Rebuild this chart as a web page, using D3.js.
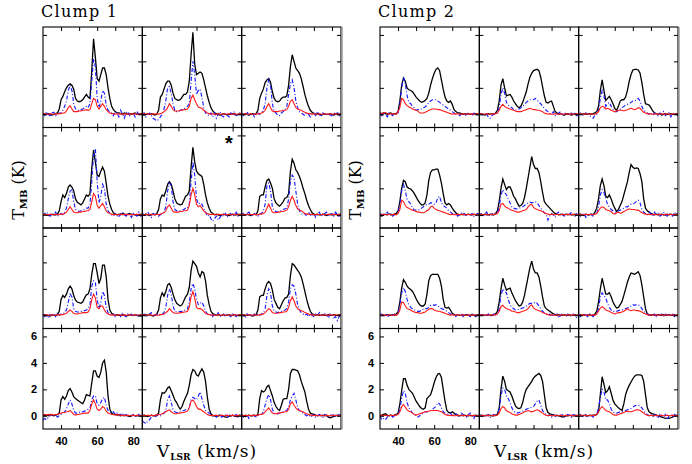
<!DOCTYPE html>
<html>
<head>
<meta charset="utf-8">
<script src="https://cdn.jsdelivr.net/npm/d3@7"></script>
<style>
  body { margin: 0; background: #fff; }
  .tick line { stroke: #000; stroke-width: 1; }
  .tick text { font-family: "Liberation Sans", Arial, sans-serif; font-size: 11px; font-weight: bold; fill: #000; }
</style>
</head>
<body>
<svg id="chart"></svg>
<script>
// Velocity channels (km/s), shared by every spectrum
const velocity = [30,31,32,33,34,35,36,37,38,39,40,41,42,43,44,45,46,47,48,49,50,51,52,53,54,55,
  56,57,58,59,60,61,62,63,64,65,66,67,68,69,70,71,72,73,74,75,76,77,78,79,80,81,82,83,84,85];

const xTicks = [40, 50, 60, 70, 80];
const yTicks = [0, 2, 4, 6];
const clumpTitles = ["Clump 1", "Clump 2"];

// Clump 1, 12 panels in reading order (row by row)
const clump1Black = [
  [0,.05,0,.05,0,-.05,0,.05,.1,.4, 1.1,1.35,1.7,2.0,2.2,2.3,2.2,1.9,1.2,1.0, .95,1.0,1.1,1.3,1.5,1.3,1.2,3.3,5.7,4.3, 2.7,2.5,3.0,3.5,3.5,3.0,2.0,1.2,.6,.35, .2,.1,.1,.05,0,.1,.05,0,.05,0, .05,.1,0,.05,0,.05],
  [0,-.05,0,.05,0,.05,0,-.05,0,.3, 1.3,1.5,1.9,2.3,2.5,2.5,2.2,1.6,1.2,1.1, 1.05,1.1,1.3,1.5,1.5,1.7,2.5,4.5,6.2,3.8, 3.0,3.1,3.2,3.1,2.6,2.0,1.4,.9,.5,.25, .1,.05,0,-.05,0,.05,0,-.05,0,0, .05,0,-.05,0,.05,0],
  [.05,0,.05,0,-.05,0,.05,0,.05,.3, 1.2,1.6,1.9,2.4,2.6,2.7,2.4,1.7,1.2,1.0, .95,1.0,1.2,1.3,1.3,1.4,2.2,3.6,4.5,4.0, 3.5,3.3,3.1,2.7,2.1,1.5,1.0,.6,.3,.15, .05,0,.05,0,-.05,0,.05,0,0,.05, 0,-.05,0,.05,0,0],
  [0,.05,0,-.05,0,.05,0,0,.05,.3, 1.0,1.5,1.3,1.6,2.1,2.25,2.1,1.8,1.2,.95, .85,.75,.9,1.2,1.5,1.4,1.6,3.5,4.9,4.0, 3.0,2.9,3.3,3.6,3.3,2.4,1.4,.8,.4,.15, .05,0,.05,0,.1,.05,0,.05,.1,0, .05,0,-.05,0,.05,0],
  [0,0,.05,0,-.05,0,.05,0,.1,.4, 1.2,1.5,1.4,1.8,2.3,2.5,2.3,1.8,1.2,.9, .8,.75,.8,1.1,1.4,1.5,1.8,3.6,5.1,4.0, 3.3,3.1,3.0,2.9,2.3,1.5,.9,.5,.2,.1, 0,.05,0,-.05,0,.05,0,0,-.05,0, .05,0,0,.05,0,0],
  [.05,0,0,.05,0,-.05,0,.05,0,.3, 1.4,1.5,1.5,2.1,2.6,2.7,2.4,2.0,1.2,.9, .75,.65,.8,1.0,1.25,1.3,1.6,3.3,4.2,3.9, 3.4,3.2,2.9,2.5,2.0,1.6,1.1,.7,.4,.15, .05,0,.05,0,0,.05,0,-.05,0,.05, 0,0,.05,0,0,.05],
  [0,.05,0,0,-.05,.05,0,0,.05,.3, 1.2,1.5,1.35,1.6,2.0,2.2,2.0,1.5,1.15,1.0, .95,.9,1.0,1.3,1.55,1.6,2.0,3.1,3.9,3.9, 3.2,2.4,2.8,3.8,3.8,2.9,1.2,.4,.15,.05, 0,.05,0,0,.05,0,-.05,0,.05,0, 0,.05,0,0,-.05,0],
  [0,0,.05,0,.05,0,-.05,0,.1,.4, 1.3,1.7,1.45,1.8,2.3,2.4,2.1,1.6,1.2,.9, .8,.7,.8,1.1,1.4,1.6,2.1,3.4,4.1,3.9, 3.7,3.2,2.9,3.3,3.2,2.6,1.5,.8,.3,.12, .05,0,.05,0,0,.05,0,0,.05,0, 0,.05,0,0,.05,0],
  [0,.05,0,0,.05,0,-.05,0,.05,.4, 1.4,1.5,1.5,2.0,2.4,2.55,2.4,1.9,1.2,.9, .6,.5,.8,1.1,1.3,1.35,1.6,3.0,3.9,3.8, 3.6,3.4,3.2,2.9,2.4,1.8,1.2,.7,.3,.1, .05,0,.05,0,0,.05,0,0,.05,0, 0,.05,0,0,.05,0],
  [.05,0,.05,0,.1,.05,0,.05,.1,.2, 1.2,1.45,1.25,1.5,1.9,2.05,1.8,1.45,1.3,1.2, 1.1,1.0,.9,1.2,1.6,1.55,1.5,2.5,3.4,3.4, 3.0,2.9,3.3,4.0,4.2,3.3,1.5,.5,.2,.1, .1,.05,.1,0,.05,0,.05,0,-.05,0, .05,0,0,.05,0,0],
  [0,.05,0,-.05,0,.05,0,0,.05,.2, 1.2,1.75,1.7,1.85,2.1,2.2,1.9,1.55,1.2,1.0, .7,.5,.7,1.1,1.4,1.7,2.3,3.1,3.5,3.4, 3.1,3.0,3.3,3.55,3.3,2.6,1.4,.5,.15,0, 0,-.05,0,.05,0,-.05,-.1,-.1,-.05,0, .05,0,-.05,0,.05,0],
  [.05,0,-.05,0,.05,0,0,.05,0,.1, 1.3,1.9,1.8,1.9,2.2,2.3,1.9,1.5,1.0,.7, .5,.4,.8,1.25,1.3,1.3,2.0,3.2,3.5,3.5, 3.45,3.4,3.1,2.6,2.2,1.8,1.1,.5,.2,.15, .1,.05,0,.05,0,.05,0,.05,-.1,-.15, -.1,-.05,0,.05,0,.05]
];
const clump1Blue = [
  [.1,-.1,.2,0,-.2,.1,.15,-.1,0,.1, .1,.3,.6,1.0,1.8,2.2,1.8,.8,.4,.3, .3,.35,.4,.5,.6,.5,.8,2.5,4.2,3.6, 1.2,.5,1.0,1.8,1.6,.7,.3,.2,.1,-.1, .2,.1,-.2,.3,0,-.3,.1,.2,-.1,0, .1,-.2,.2,0,.1,-.1],
  [0,.1,-.2,0,.1,-.1,-.3,-.4,-.5,-.4, -.2,0,.4,1.0,2.0,2.1,1.6,.8,.3,.2, .2,.3,.35,.4,.5,.6,.8,2.5,4.0,3.0, 1.5,1.8,1.9,1.3,.5,.1,0,-.1,.1,-.2, .1,-.3,0,.2,-.1,-.2,.1,0,-.3,.1, 0,.2,-.1,0,.1,-.1],
  [.1,-.1,0,.2,-.1,0,.1,-.2,0,.1, 0,.1,.3,.8,2.0,2.6,2.2,.8,.2,.1, -.1,-.1,.1,.2,.3,.6,1.5,2.3,2.6,2.0, 1.0,.5,.2,.1,0,-.1,.1,0,-.2,0, .1,-.1,.2,0,-.2,.1,0,.1,-.1,0, -.2,.1,0,.2,-.1,.1],
  [-.1,.1,.2,0,-.1,.1,0,.2,-.1,0, .1,0,.2,.5,1.2,1.8,1.9,1.0,.4,.3, .25,.3,.35,.4,.5,.5,.8,2.5,4.5,5.0, 2.5,.9,1.4,2.3,2.0,.8,.3,.1,0,-.1, .1,0,-.2,.1,.2,0,-.1,.1,0,-.2, .1,0,-.1,.2,-.1,0],
  [.1,0,-.1,.2,0,-.2,.1,0,.1,-.1, 0,.1,.2,.6,1.8,2.4,2.2,1.0,.4,.3, .3,.3,.35,.4,.5,.5,.8,2.5,4.0,3.0, 1.2,.8,.9,.8,.5,.2,-.1,0,-.3,-.5, -.3,-.1,-.4,-.2,0,-.1,.1,-.2,0,.1, -.1,0,.2,-.1,0,.1],
  [0,.1,-.1,.1,.2,0,-.1,.1,0,-.1, .1,.1,.3,.8,2.2,2.4,1.8,.6,.3,.25, .2,.25,.3,.4,.45,.5,1.2,2.5,3.0,2.8, 1.8,.8,.3,.1,0,.1,-.1,.2,0,-.1, .1,-.2,0,.2,-.1,0,.1,.2,-.1,0, .1,-.1,.2,0,-.2,.1],
  [.1,-.1,0,-.2,.1,0,.1,-.1,.2,0, .1,.1,.2,.4,1.0,1.6,1.4,.5,.3,.25, .25,.3,.3,.35,.4,.5,.8,2.2,2.6,2.5, 1.2,.5,1.0,1.8,1.5,.6,.2,.1,0,.1, -.1,0,.1,-.1,.2,0,-.1,.1,0,.1, -.1,.1,0,-.1,.1,0],
  [0,.1,-.1,0,.1,.2,-.1,0,.1,0, .1,.1,.2,.6,1.5,2.0,1.6,.7,.3,.25, .25,.3,.3,.35,.4,.5,1.0,2.0,2.4,2.0, 1.2,.8,.9,1.0,.7,.3,.1,0,.1,-.1, .1,0,.2,-.1,0,.1,-.1,.1,0,-.1, .1,0,-.1,.1,0,.1],
  [.1,0,-.2,.1,0,.1,-.1,.1,0,.1, 0,.1,.2,.5,1.5,2.0,1.7,.7,.3,.25, .2,.25,.3,.35,.4,.5,1.0,2.0,2.3,2.2, 1.6,.8,.4,.2,.1,0,.1,-.1,.1,0, -.1,.1,0,.2,-.1,0,.1,0,-.2,.1, 0,-.2,-.1,-.4,-.1,.1],
  [-.3,-.2,-.3,-.1,0,.1,0,.1,-.1,0, .1,.2,.3,.5,.9,1.2,.9,.4,.2,.2, .25,.3,.3,.35,.4,.5,.6,1.2,1.5,1.5, .9,.8,1.0,1.3,1.4,.8,.4,.3,.2,.3, .1,.2,0,.1,.2,0,.1,-.1,.1,0, .1,0,-.1,.1,0,-.1],
  [-.4,-.5,-.6,-.4,-.3,-.1,0,-.1,0,.1, 0,.1,.2,.4,1.2,1.5,1.0,.5,.3,.25, .25,.3,.35,.4,.45,.5,.6,1.2,1.4,1.3, 1.2,1.5,1.8,1.3,.8,.4,.3,.2,.1,0, .1,-.1,0,.1,-.1,0,.1,-.1,0,.1, -.1,0,.1,-.1,0,.1],
  [.1,-.1,0,.1,-.2,0,.1,0,-.1,0, .1,.1,.3,.8,1.3,1.6,1.2,.5,.2,.1, .15,.2,.25,.3,.35,.4,.7,1.2,1.5,1.7, 1.2,.6,.4,.3,.2,.1,0,.1,-.1,0, .1,-.1,0,.1,0,-.1,.1,0,-.1,.1, 0,.1,-.1,0,.1,-.1]
];
const clump1Red = [
  [0,.05,0,0,.05,0,0,.05,0,.05, .05,.1,.1,.25,.5,.65,.4,.2,.2,.2, .25,.25,.3,.3,.35,.3,.35,.8,1.2,1.1, .6,.4,.6,.8,.6,.35,.2,.1,.05,.05, 0,.05,0,.05,0,0,.05,0,0,.05, 0,.05,0,0,.05,0],
  [0,.05,0,.05,0,0,.05,0,.05,0, .05,.1,.2,.3,.5,.8,.6,.35,.25,.25, .25,.3,.3,.35,.35,.4,.6,1.2,1.45,1.1, .8,.55,.5,.45,.3,.2,.1,.05,0,.05, 0,0,.05,0,0,.05,0,0,.05,0, 0,.05,0,0,.05,0],
  [0,0,.05,0,0,.05,0,0,.05,0, .05,.1,.15,.3,.6,.8,.5,.25,.2,.2, .2,.25,.25,.3,.3,.35,.6,1.0,1.1,.8, .5,.4,.35,.3,.2,.15,.1,.05,.05,0, .05,0,0,.05,0,0,.05,0,0,.05, 0,0,.05,0,0,.05],
  [0,.05,0,0,.05,0,0,.05,0,0, .05,.05,.1,.2,.4,.6,.4,.2,.15,.15, .2,.2,.25,.25,.3,.3,.4,1.0,1.6,1.4, .7,.5,.7,.85,.6,.3,.15,.1,.05,0, .05,0,0,.05,0,0,.05,0,0,.05, 0,0,.05,0,0,.05],
  [0,0,.05,0,0,.05,0,0,.05,0, .05,.1,.15,.3,.6,.75,.5,.25,.2,.2, .2,.25,.25,.3,.3,.35,.7,1.5,2.0,1.5, .8,.6,.7,.5,.3,.15,.1,.05,0,.05, 0,0,.05,0,0,.05,0,0,.05,0, 0,.05,0,0,.05,0],
  [0,.05,0,0,.05,0,0,.05,0,0, .05,.05,.1,.2,.5,.8,.5,.2,.15,.15, .2,.2,.25,.25,.3,.35,.6,1.1,1.4,1.1, .7,.45,.35,.3,.2,.1,.05,.05,0,.05, 0,0,.05,0,0,.05,0,0,.05,0, 0,.05,0,0,.05,0],
  [0,0,.05,0,0,.05,0,0,.05,0, .05,.05,.1,.15,.3,.4,.3,.15,.1,.1, .15,.15,.2,.2,.2,.25,.5,1.2,1.6,1.3, .6,.5,.7,.7,.4,.2,.1,.05,0,.05, 0,0,.05,0,0,.05,0,0,.05,0, 0,.05,0,0,.05,0],
  [0,.05,0,0,.05,0,0,.05,0,0, .05,.05,.1,.2,.3,.5,.35,.2,.15,.15, .15,.2,.2,.25,.25,.3,.6,1.4,1.8,1.3, .6,.5,.5,.45,.3,.15,.1,.05,0,.05, 0,0,.05,0,0,.05,0,0,.05,0, 0,.05,0,0,.05,0],
  [0,.05,0,0,.05,0,0,.05,0,0, .05,.05,.1,.2,.35,.5,.4,.2,.15,.15, .15,.2,.2,.25,.25,.3,.6,1.1,1.4,1.1, .7,.5,.4,.35,.3,.2,.15,.1,.05,0, .05,0,0,.05,0,0,.05,0,0,.05, 0,0,.05,0,0,.05],
  [.05,.1,.05,.1,.05,.1,.05,.1,.1,.15, .2,.25,.25,.3,.3,.4,.25,.1,.05,.1, .1,.15,.15,.2,.2,.2,.4,.9,1.2,.9, .5,.4,.5,.7,.6,.35,.2,.15,.1,.1, .05,.1,.05,.05,0,.05,0,.05,0,0, .05,0,.05,0,0,.05],
  [0,.05,0,.05,0,.05,0,.05,.05,.1, .1,.15,.2,.3,.4,.45,.3,.2,.15,.15, .2,.2,.25,.25,.3,.35,.6,1.1,1.2,1.0, .7,.5,.5,.4,.3,.2,.1,.05,0,.05, 0,.05,0,0,.05,0,0,.05,0,0, .05,0,0,.05,0,0],
  [.05,0,.05,0,.05,0,.05,0,.05,.05, .1,.1,.15,.3,.45,.6,.4,.2,.15,.15, .2,.2,.25,.25,.3,.3,.5,.9,1.05,.8, .6,.45,.4,.35,.3,.2,.15,.1,.05,.05, 0,.05,0,0,.05,0,0,.05,0,0, .05,0,.05,0,0,.05]
];

// Clump 2, 12 panels in reading order (row by row)
const clump2Black = [
  [.1,.05,.1,.05,0,.05,.1,0,.05,.05, .2,1.0,2.2,2.75,2.5,2.0,1.85,1.8,1.7,1.5, 1.3,1.15,1.0,.9,.95,1.05,1.2,1.6,2.2,2.7, 3.1,3.4,3.5,3.3,2.6,1.9,1.3,1.0,.9,1.0, .75,.35,.2,.1,.1,.05,0,.05,0,.05, 0,.05,0,.05,0,0],
  [0,.05,0,-.05,0,.05,0,.05,0,.1, .3,1.0,2.2,2.7,2.0,1.4,1.45,1.5,1.3,1.0, .8,.6,.5,.6,.9,1.3,1.7,2.3,2.8,3.1, 3.3,3.35,3.4,3.3,2.8,2.1,1.4,.9,.85,.95, 1.0,.6,.2,.1,0,.05,0,-.05,0,.05, 0,-.05,0,.05,0,0],
  [0,.05,0,.05,0,0,.05,0,.05,.1, .2,.6,1.8,2.6,1.8,1.05,1.2,1.35,1.1,.8, .45,.3,.6,1.0,1.1,1.1,1.3,1.8,2.5,3.0, 3.35,3.4,3.4,3.35,3.1,2.4,1.5,.8,.75,.7, .5,.25,.1,.05,0,.05,-.05,0,.05,0, 0,.05,0,0,.05,0],
  [-.05,-.1,0,.05,0,.05,0,0,.05,.1, .3,1.0,2.0,2.6,2.5,2.1,2.0,1.95,1.8,1.6, 1.35,1.1,.9,.75,.75,.9,1.5,2.6,3.2,3.4, 3.4,3.45,3.45,3.0,2.4,1.6,.9,.75,.85,.75, .5,.3,.15,.05,0,.05,0,.05,0,.05, 0,0,.05,0,.05,0],
  [0,-.05,0,.05,0,0,.05,0,0,.1, .3,1.0,2.0,2.7,2.3,1.9,2.1,2.1,1.8,1.4, 1.2,.9,.65,.7,.85,1.3,2.0,2.8,3.6,4.4, 3.8,3.5,3.5,3.2,2.5,1.7,1.0,.8,.65,.5, .35,.2,.1,.05,0,.05,0,0,.05,0, .05,0,0,.05,0,0],
  [0,.05,0,-.05,.05,0,0,.05,0,.2, .5,1.2,2.2,2.7,2.2,1.4,1.3,1.5,1.2,.8, .5,.25,.4,.7,1.0,1.5,2.0,2.5,3.2,3.8, 3.6,3.5,3.55,3.5,3.1,2.5,1.2,.5,.3,.2, .1,.05,0,.05,0,0,.05,0,0,.05, 0,.05,0,0,.05,0],
  [0,.05,0,0,.05,0,0,.05,0,.1, .25,1.0,2.05,2.7,2.5,2.2,2.05,1.95,1.8,1.55, 1.25,1.0,.8,.7,.7,.85,1.6,2.6,3.0,3.1, 3.1,3.1,3.1,2.8,2.2,1.2,.6,.55,.6,.4, .15,.05,0,.05,0,0,.05,0,.05,0, 0,.05,0,0,.05,0],
  [0,0,.05,0,0,.05,0,0,.05,.1, .3,1.0,2.0,2.8,2.3,1.9,2.0,2.05,1.7,1.4, 1.1,.9,.7,.75,1.0,1.5,2.2,2.9,3.6,4.1, 3.5,3.2,3.2,2.9,2.2,1.4,.7,.5,.4,.3, .2,.1,.05,0,.05,0,0,.05,0,0, .05,0,0,.05,0,0],
  [0,.05,0,.05,0,0,.05,0,0,.1, .3,1.0,2.0,2.8,2.2,1.6,1.6,1.7,1.4,1.0, .75,.55,.6,.8,1.05,1.5,2.0,2.5,2.9,3.2, 3.15,3.1,3.2,3.3,3.0,2.3,1.4,.5,.1,.05, 0,.05,0,0,.05,0,0,.05,0,0, .05,0,0,.05,0,0],
  [0,.05,.1,.15,.05,0,.05,0,.05,.1, .2,.9,1.9,2.8,2.8,2.3,2.0,1.85,1.7,1.4, 1.1,.9,.7,.55,.5,.6,1.3,1.45,1.6,2.0, 2.5,2.9,3.15,3.2,2.9,2.0,1.1,.4,.25,.2, .3,.2,.1,.05,0,.05,0,.05,0,0, .05,0,0,.05,0,0],
  [0,.05,0,0,.05,0,.05,0,0,.05, .1,.6,2.0,3.0,2.6,2.0,1.9,1.8,1.5,1.1, .75,.6,.55,.6,1.0,1.6,2.0,2.2,2.4,2.6, 2.85,3.0,3.1,3.2,3.05,2.6,1.6,.6,.25,.15, .1,.05,0,.05,0,-.05,-.1,-.05,0,0, .05,0,0,.05,0,0],
  [0,.05,0,.05,0,0,.05,0,.05,.05, .1,.3,1.6,2.95,2.4,1.75,1.9,2.2,1.7,1.2, .9,.75,.6,.5,.4,.9,1.6,2.0,2.3,2.55, 2.8,3.0,3.1,3.1,3.1,3.05,2.6,1.6,.6,.3, .2,.15,.1,.05,0,-.05,-.1,-.15,-.2,-.2, -.2,-.15,-.1,0,.05,0]
];
const clump2Blue = [
  [0,-.1,.1,0,-.2,.1,0,-.1,.1,0, .1,.8,2.0,2.8,2.3,1.4,.9,.8,.6,.5, .3,.35,.4,.4,.5,.55,.7,.9,1.0,1.1, 1.1,1.1,1.0,.9,.8,.7,.6,.5,.4,.3, .2,.1,0,.1,-.1,0,.1,-.1,0,.1, 0,-.1,.1,0,-.1,0],
  [.1,0,-.1,.1,0,-.2,-.3,-.1,0,.1, .1,.5,1.5,2.0,1.6,.9,.7,.6,.5,.35, .3,.35,.4,.5,.6,.75,.9,1.0,1.1,1.1, 1.1,1.2,1.1,.9,.8,.6,.45,.3,.2,.1, 0,.2,-.1,0,.1,.2,-.1,0,.1,0, -.1,.1,0,.1,-.1,0],
  [0,.1,-.1,0,.1,0,-.1,-.2,-.3,-.1, 0,.3,1.2,1.8,1.4,.6,.8,.9,.6,.4, .2,.2,.3,.4,.5,.6,.7,.75,.8,.9, 1.0,1.0,1.1,1.2,1.0,.6,.3,.2,.1,0, .1,-.1,.1,0,-.1,.1,0,.2,-.1,0, .1,-.2,0,.1,0,-.1],
  [.1,0,-.1,.1,.2,0,.1,-.1,0,.1, .1,.8,1.8,2.3,1.8,1.2,1.0,.8,.5,.35, .35,.35,.4,.5,.6,.7,.8,.8,.9,.9, .8,.9,1.3,1.4,.9,.7,.6,.5,.3,.2, .1,0,.1,-.1,0,.1,.2,0,-.1,.1, 0,.1,-.1,0,.1,0],
  [0,.1,-.1,0,.2,0,-.1,.1,0,.1, .1,.6,1.5,1.9,1.7,1.5,1.2,.9,.6,.5, .45,.45,.5,.55,.6,.7,.8,.9,.95,.9, .95,1.0,.9,.7,.5,.3,.15,.05,-.4,-.1, .1,0,-.2,.1,.2,0,.1,-.1,0,.1, 0,.2,0,-.1,.1,0],
  [.1,-.1,0,.1,-.2,-.1,.1,0,-.1,.1, .1,.6,1.5,1.9,1.7,1.2,.8,.6,.4,.3, .2,.2,.3,.35,.4,.5,.6,.6,.7,.8, .8,.9,1.0,1.1,.9,.4,.2,.1,0,.2, .1,-.1,.2,0,.1,-.1,0,.2,0,-.1, .1,0,-.1,.2,0,.1],
  [0,.1,-.1,.1,0,-.1,.1,0,.1,0, .1,.8,1.7,2.1,1.8,1.2,.8,.6,.5,.4, .35,.3,.3,.4,.45,.5,.5,.6,.75,.8, .75,.8,.7,.6,.5,.45,.4,.3,.2,.1, 0,.1,-.1,.1,0,.1,-.1,0,.1,0, -.1,.1,0,-.1,.1,0],
  [.1,0,.1,-.1,0,.1,0,-.1,.1,0, .1,.5,1.5,2.0,1.8,1.7,1.2,.8,.6,.5, .4,.4,.45,.5,.55,.6,.7,.8,.9,.9, .9,1.0,.9,.7,.5,.3,.2,.1,0,.1, -.1,.1,0,.1,-.2,0,.1,0,-.1,.1, 0,-.1,.1,0,-.2,.1],
  [.1,-.1,0,.1,0,-.1,.1,0,-.1,.1, .1,.5,1.4,1.7,1.5,1.3,.9,.6,.4,.3, .3,.3,.35,.4,.4,.45,.5,.55,.6,.7, .8,.75,.8,.8,.7,.5,.3,.2,.1,0, .1,0,.1,-.1,.1,0,.1,-.1,.1,0, .1,0,.1,-.1,0,.1],
  [0,-.3,-.2,-.3,-.1,0,.1,-.1,0,.1, .1,.5,1.3,1.9,1.7,1.0,.6,.4,.2,.1, 0,-.1,0,.1,.2,.3,.3,.35,.4,.5, .6,.7,1.0,.9,.6,.3,.2,.15,.1,.2, 0,.1,.2,0,-.1,.2,.1,0,-.1,.1, .2,0,-.2,.1,0,.1],
  [.1,0,-.1,.1,0,.1,-.1,0,.1,0, .1,.5,1.5,2.1,2.0,1.5,1.3,1.0,.6,.35, .25,.2,.25,.3,.35,.4,.5,.55,.6,.65, .7,.9,1.1,1.2,.8,.4,.2,.1,0,.1, -.1,.1,0,-.1,.1,0,.1,-.1,0,.1, 0,-.1,.1,0,.1,-.1],
  [0,.1,-.1,0,.1,-.1,0,.1,-.1,0, .1,.6,1.4,2.0,1.8,1.2,1.2,.9,.5,.3, .2,.2,.25,.3,.3,.35,.4,.45,.5,.55, .65,.75,.8,.8,.75,.6,.4,.2,.1,0, .1,-.1,.1,0,-.2,.1,0,-.1,.1,-.3, 0,.1,-.1,.1,0,-.1]
];
const clump2Red = [
  [0,.05,.1,.15,.05,0,.05,0,.05,0, .2,.5,1.2,1.1,.8,.65,.55,.5,.4,.35, .3,.25,.1,.1,.1,.15,.2,.3,.35,.4, .4,.4,.35,.35,.3,.25,.2,.15,.1,.05, 0,.05,0,.05,0,0,.05,0,0,.05, 0,.05,0,0,.05,0],
  [0,.05,0,0,.05,0,0,.05,0,.05, .1,.3,.6,.75,.6,.5,.45,.4,.35,.3, .25,.2,.2,.2,.25,.3,.35,.4,.45,.4, .35,.35,.3,.3,.25,.2,.1,.05,0,.05, 0,0,.05,0,0,.05,0,0,.05,0, 0,.05,0,0,.05,0],
  [0,.05,0,0,.05,0,0,.05,0,0, .05,.2,.5,.6,.55,.4,.45,.4,.3,.25, .2,.25,.3,.3,.3,.25,.3,.35,.4,.45, .4,.35,.4,.5,.45,.3,.15,.1,.05,0, .05,0,0,.05,0,0,.05,0,0,.05, 0,0,.05,0,0,.05],
  [0,0,.05,0,0,.05,0,0,.05,0, .1,.4,1.1,1.0,.7,.55,.5,.4,.35,.3, .25,.2,.2,.15,.15,.2,.3,.4,.6,.65, .5,.4,.35,.3,.25,.2,.15,.1,.05,0, .05,0,0,.05,0,0,.05,0,0,.05, 0,0,.05,0,0,.05],
  [0,.05,0,0,.05,0,0,.05,0,.05, .1,.3,.8,.85,.65,.55,.5,.4,.35,.3, .25,.2,.2,.25,.3,.35,.4,.6,.75,.8, .55,.45,.4,.35,.3,.25,.15,.1,.05,0, .05,0,0,.05,0,0,.05,0,0,.05, 0,0,.05,0,0,.05],
  [0,.05,0,0,.05,0,0,.05,0,.05, .1,.3,.5,.6,.55,.4,.35,.3,.25,.1, .05,.15,.2,.1,.15,.25,.3,.4,.45,.4, .4,.4,.35,.35,.25,.15,.1,.05,0,.05, 0,0,.05,0,0,.05,0,0,.05,0, 0,.05,0,0,.05,0],
  [0,0,.05,0,0,.05,0,0,.05,0, .1,.4,1.0,.95,.7,.5,.45,.4,.3,.25, .2,.2,.15,.15,.2,.25,.35,.45,.5,.5, .4,.35,.3,.3,.25,.2,.15,.1,.05,0, .05,0,0,.05,0,0,.05,0,0,.05, 0,0,.05,0,0,.05],
  [0,.05,0,0,.05,0,0,.05,0,.05, .1,.3,.65,.75,.6,.5,.45,.4,.3,.3, .25,.2,.2,.25,.3,.35,.4,.5,.7,.8, .55,.45,.4,.35,.3,.2,.15,.1,.05,0, .05,0,0,.05,0,0,.05,0,0,.05, 0,0,.05,0,0,.05],
  [0,0,.05,0,0,.05,0,0,.05,0, .1,.3,.55,.65,.55,.4,.35,.3,.2,.15, .1,.15,.2,.2,.25,.3,.4,.5,.4,.35, .4,.4,.35,.35,.3,.25,.15,.1,.05,0, .05,0,0,.05,0,0,.05,0,0,.05, 0,0,.05,0,0,.05],
  [0,.05,0,.05,0,0,.05,0,.05,.05, .1,.3,.7,.85,.65,.45,.35,.3,.2,.1, .05,.1,.15,.2,.25,.3,.3,.35,.4,.4, .4,.4,.4,.35,.3,.2,.1,.05,.05,0, .05,0,0,.05,0,0,.05,0,0,.05, 0,0,.05,0,0,.05],
  [0,0,.05,0,0,.05,0,0,.05,0, .05,.2,.55,.7,.6,.4,.3,.25,.15,.1, .05,.05,.1,.15,.2,.3,.35,.4,.35,.3, .35,.4,.45,.4,.3,.2,.1,.05,0,.05, 0,0,.05,0,0,.05,0,0,.05,0, 0,.05,0,0,.05,0],
  [0,.05,0,0,.05,0,0,.05,0,.05, .1,.3,.55,.7,.55,.4,.35,.3,.2,.1, .05,.05,.1,.15,.2,.25,.3,.35,.3,.3, .35,.4,.45,.45,.4,.3,.2,.1,.05,0, .05,0,0,.05,0,0,.05,0,0,.05, 0,0,.05,0,0,.05]
];

// Layout
const width = 692, height = 464;
const gridTop = 27, rowH = 100.5, colW = 99.33;
const gridLeft = [43, 380];
const vDomain = [30, 85];
const tDomain = [-1, 6.6];

const svg = d3.select("#chart")
    .attr("width", width)
    .attr("height", height)
    .style("display", "block");

svg.append("rect").attr("width", width).attr("height", height).attr("fill", "#fff");

const serif = "'DejaVu Serif', 'Liberation Serif', serif";

function drawClump(k, black, blue, red) {
    const left = gridLeft[k];
    const g = svg.append("g");

    for (let r = 0; r < 4; r++) {
        for (let c = 0; c < 3; c++) {
            const p = r * 3 + c;
            const x = d3.scaleLinear().domain(vDomain).range([left + c * colW, left + (c + 1) * colW]);
            const y = d3.scaleLinear().domain(tDomain).range([gridTop + (r + 1) * rowH, gridTop + r * rowH]);
            const clipId = "clip-" + k + "-" + p;

            g.append("clipPath").attr("id", clipId)
                .append("rect")
                .attr("x", x.range()[0]).attr("y", y.range()[1])
                .attr("width", colW).attr("height", rowH);

            const line = d3.line()
                .x((d, i) => x(velocity[i]))
                .y(d => y(d));

            const panel = g.append("g").attr("clip-path", "url(#" + clipId + ")");

            // black solid, blue dash-dot, red solid
            panel.append("path").datum(black[p])
                .attr("d", line).attr("fill", "none")
                .attr("stroke", "#000").attr("stroke-width", 1.3);
            panel.append("path").datum(blue[p])
                .attr("d", line).attr("fill", "none")
                .attr("stroke", "#1a1aff").attr("stroke-width", 1.15)
                .attr("stroke-dasharray", "4,2,1,2");
            panel.append("path").datum(red[p])
                .attr("d", line).attr("fill", "none")
                .attr("stroke", "#ff1a1a").attr("stroke-width", 1.1);

            // inward ticks on all four sides
            const labelX = (r === 3 && c === 0);
            g.append("g")
                .attr("transform", "translate(0," + y.range()[0] + ")")
                .call(d3.axisBottom(x).tickValues(xTicks).tickSize(-4).tickPadding(8)
                    .tickFormat(d => labelX && d % 20 === 0 ? d : ""))
                .call(a => a.select(".domain").remove());
            g.append("g")
                .attr("transform", "translate(0," + y.range()[1] + ")")
                .call(d3.axisTop(x).tickValues(xTicks).tickSize(-4).tickFormat(""))
                .call(a => a.select(".domain").remove());
            g.append("g")
                .attr("transform", "translate(" + x.range()[0] + ",0)")
                .call(d3.axisLeft(y).tickValues(yTicks).tickSize(-4).tickPadding(6)
                    .tickFormat(d => labelX ? d : ""))
                .call(a => a.select(".domain").remove());
            g.append("g")
                .attr("transform", "translate(" + x.range()[1] + ",0)")
                .call(d3.axisRight(y).tickValues(yTicks).tickSize(-4).tickFormat(""))
                .call(a => a.select(".domain").remove());

            // panel frame
            g.append("rect")
                .attr("x", x.range()[0]).attr("y", y.range()[1])
                .attr("width", colW).attr("height", rowH)
                .attr("fill", "none").attr("stroke", "#000").attr("stroke-width", 1.1);
        }
    }

    // grey outer right edge
    g.append("line")
        .attr("x1", left + 3 * colW + 1).attr("x2", left + 3 * colW + 1)
        .attr("y1", gridTop).attr("y2", gridTop + 4 * rowH)
        .attr("stroke", "#999").attr("stroke-width", 1.5);

    // title
    g.append("text")
        .attr("x", left - 2).attr("y", 17)
        .style("font-family", serif).style("font-size", "16px")
        .attr("textLength", 76).attr("lengthAdjust", "spacing")
        .text(clumpTitles[k]);

    // y axis title
    const yt = g.append("text")
        .attr("transform", "translate(" + (left - 19) + ",190) rotate(-90)")
        .attr("text-anchor", "middle")
        .style("font-family", serif).style("font-size", "16px");
    yt.append("tspan").text("T");
    yt.append("tspan").attr("dy", 3).style("font-size", "10px").style("font-weight", "bold").text("MB");
    yt.append("tspan").attr("dy", -3).text(" (K)");

    // x axis title
    const xt = g.append("text")
        .attr("x", left + 114).attr("y", 457)
        .style("font-family", serif).style("font-size", "17px")
        .style("letter-spacing", "1px");
    xt.append("tspan").text("V");
    xt.append("tspan").attr("dy", 3).style("font-size", "9px").style("font-weight", "bold")
        .style("letter-spacing", "0px").text("LSR");
    xt.append("tspan").attr("dy", -3).text(" (km/s)");
}

drawClump(0, clump1Black, clump1Blue, clump1Red);
drawClump(1, clump2Black, clump2Blue, clump2Red);

// marker in the second-row middle panel of clump 1
svg.append("text")
    .attr("x", 229).attr("y", 150)
    .attr("text-anchor", "middle")
    .style("font-family", "'Liberation Sans', Arial, sans-serif")
    .style("font-size", "20px").style("font-weight", "bold")
    .text("*");
</script>
</body>
</html>
